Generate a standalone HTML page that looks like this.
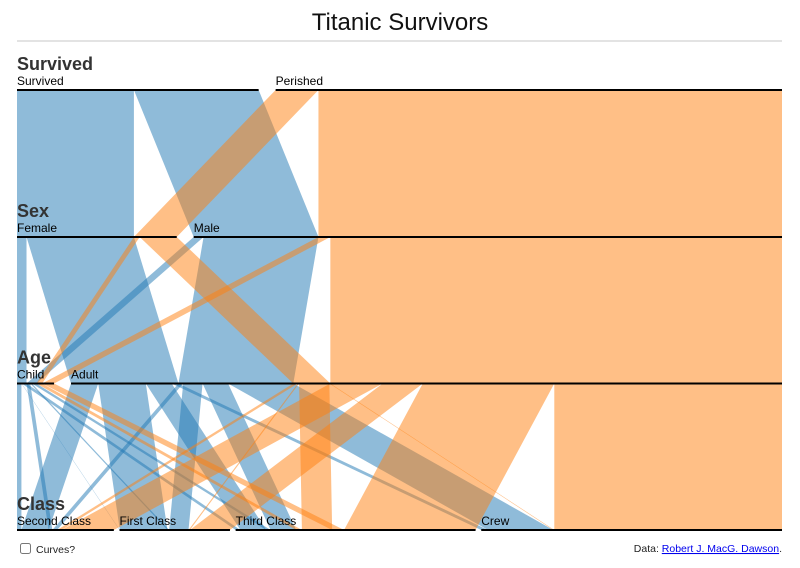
<!DOCTYPE html>
<html><head><meta charset="utf-8"><style>
html,body{margin:0;padding:0;background:#fff;width:800px;height:568px;overflow:hidden;font-family:"Liberation Sans",sans-serif}
</style></head><body>
<svg id="s" width="800" height="568" xmlns="http://www.w3.org/2000/svg" style="position:absolute;left:0;top:0">
<text x="400" y="30" text-anchor="middle" font-size="24" fill="#111">Titanic Survivors</text>
<rect x="17" y="40" width="765" height="2" fill="#e3e3e3"/>
<g id="rib"></g>
<g id="dims"></g>
<rect x="20.5" y="543.5" width="10" height="10" rx="2" fill="#fff" stroke="#777"/>
<text x="36" y="553" font-size="10.5" fill="#222">Curves?</text>
<text x="782" y="552" font-size="10.5" text-anchor="end" fill="#222">Data: <tspan fill="#00e" text-decoration="underline">Robert J. MacG. Dawson</tspan>.</text>
</svg>
<script>
var dims=[
 {name:"Survived",cats:["Survived","Perished"],y:90},
 {name:"Sex",cats:["Female","Male"],y:237},
 {name:"Age",cats:["Child","Adult"],y:383.5},
 {name:"Class",cats:["Second Class","First Class","Third Class","Crew"],y:530}
];
var raw=[
["First Class",1,0,5,0],["First Class",1,1,57,118],["First Class",0,0,1,0],["First Class",0,1,140,4],
["Second Class",1,0,11,0],["Second Class",1,1,14,154],["Second Class",0,0,13,0],["Second Class",0,1,80,13],
["Third Class",1,0,13,35],["Third Class",1,1,75,387],["Third Class",0,0,14,17],["Third Class",0,1,76,89],
["Crew",1,1,192,670],["Crew",0,1,20,3]];
var rows=[];
raw.forEach(function(r){
 var sex=r[1]?"Male":"Female",age=r[2]?"Adult":"Child";
 if(r[3])rows.push({p:["Survived",sex,age,r[0]],n:r[3]});
 if(r[4])rows.push({p:["Perished",sex,age,r[0]],n:r[4]});
});
var total=2201,X0=17,W=748,SP=17;
dims.forEach(function(d,i){
 d.pos={};var x=X0,p=SP/(d.cats.length-1);
 d.cats.forEach(function(c){var cnt=0;rows.forEach(function(r){if(r.p[i]==c)cnt+=r.n});
  var dx=cnt/total*W;d.pos[c]={x:x,dx:dx};x+=dx+p;});
});
var NS="http://www.w3.org/2000/svg",rib=document.getElementById("rib"),dg=document.getElementById("dims");
function idx(path){return path.map(function(c,i){return dims[i].cats.indexOf(c)});}
for(var k=0;k<3;k++){
 var groups={};
 rows.forEach(function(r){var key=r.p.slice(0,k+2).join("|");groups[key]=groups[key]||{p:r.p.slice(0,k+2),n:0};groups[key].n+=r.n;});
 var list=Object.keys(groups).map(function(k2){return groups[k2]});
 list.sort(function(a,b){var ia=idx(a.p),ib=idx(b.p);for(var j=0;j<ia.length;j++){if(ia[j]!=ib[j])return ia[j]-ib[j];}return 0;});
 var offT={},offB={};
 list.forEach(function(g){
  var ct=g.p[k],cb=g.p[k+1];offT[ct]=offT[ct]||0;offB[cb]=offB[cb]||0;
  var w=g.n/total*W;
  var tx=dims[k].pos[ct].x+offT[ct],bx=dims[k+1].pos[cb].x+offB[cb];
  offT[ct]+=w;offB[cb]+=w;
  var y1=dims[k].y,y2=dims[k+1].y;
  var pth=document.createElementNS(NS,"path");
  pth.setAttribute("d","M"+tx+","+y1+"L"+(tx+w)+","+y1+"L"+(bx+w)+","+y2+"L"+bx+","+y2+"Z");
  pth.setAttribute("fill",g.p[0]=="Survived"?"#1f77b4":"#ff7f0e");
  pth.setAttribute("fill-opacity","0.5");
  rib.appendChild(pth);
 });
}
dims.forEach(function(d){
 var t=document.createElementNS(NS,"text");t.setAttribute("x",17);t.setAttribute("y",d.y-20);
 t.setAttribute("font-size","18");t.setAttribute("font-weight","bold");t.setAttribute("fill","#333");t.textContent=d.name;dg.appendChild(t);
 d.cats.forEach(function(c){var q=d.pos[c];
  var l=document.createElementNS(NS,"rect");l.setAttribute("x",q.x);l.setAttribute("y",d.y-1);l.setAttribute("width",q.dx);l.setAttribute("height",2);l.setAttribute("fill","#000");dg.appendChild(l);
  var tt=document.createElementNS(NS,"text");tt.setAttribute("x",q.x);tt.setAttribute("y",d.y-5);tt.setAttribute("font-size","12");tt.setAttribute("fill","#000");tt.textContent=c;dg.appendChild(tt);
 });
});
</script>
</body></html>
